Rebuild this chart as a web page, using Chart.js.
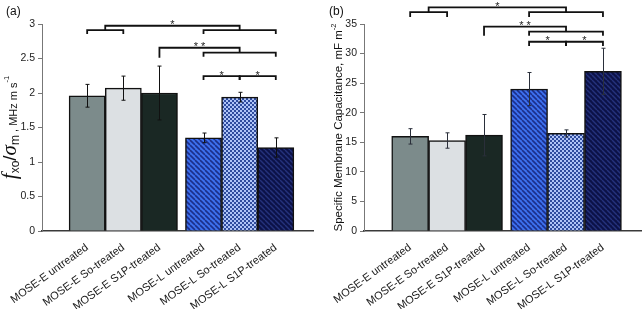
<!DOCTYPE html>
<html>
<head>
<meta charset="utf-8">
<script src="https://cdn.jsdelivr.net/npm/chart.js@4.4.1/dist/chart.umd.min.js"></script>
<style>
body{margin:0;background:#fff;font-family:'Liberation Sans',Arial,sans-serif}
.panel{position:absolute;top:0;width:322px;height:309px}
.tag{position:absolute;top:4px;font-size:12px;color:#111}
</style>
</head>
<body>
<div class="panel" style="left:0"><canvas id="chart-a" width="322" height="309"></canvas><div class="tag" style="left:6px">(a)</div></div>
<div class="panel" style="left:322px"><canvas id="chart-b" width="322" height="309"></canvas><div class="tag" style="left:7px">(b)</div></div>
<script>
// --- data ---
const categories = ['MOSE-E untreated','MOSE-E So-treated','MOSE-E S1P-treated','MOSE-L untreated','MOSE-L So-treated','MOSE-L S1P-treated'];
const fxoValues = [1.96, 2.07, 2.00, 1.35, 1.94, 1.21];
const fxoErrors = [0.165, 0.175, 0.39, 0.07, 0.07, 0.14];
const fxoTicks  = [0, 0.5, 1, 1.5, 2, 2.5, 3];
const capValues = [16.0, 15.3, 16.2, 24.0, 16.5, 27.0];
const capErrors = [1.3, 1.3, 3.5, 2.8, 0.6, 3.9];
const capTicks  = [0, 5, 10, 15, 20, 25, 30, 35];
// significance brackets: from/to bar index, bar height, left/right leg ends, label
const fxoBrackets = [
  {from:0,   to:1, y:2.91,  l:2.855, r:2.855},
  {from:3,   to:5, y:2.91,  l:2.855, r:2.855},
  {from:0.5, to:4, y:2.975, l:2.91,  r:2.91,  label:'*'},
  {from:3,   to:5, y:2.584, l:2.526, r:2.526},
  {from:2,   to:4, y:2.656, l:2.51,  r:2.584, label:'**'},
  {from:3,   to:4, y:2.246, l:2.19,  r:2.19,  label:'*'},
  {from:4,   to:5, y:2.246, l:2.19,  r:2.19,  label:'*'},
];
const capBrackets = [
  {from:0,   to:1, y:37.0,  l:36.2, r:36.2},
  {from:3,   to:5, y:37.0,  l:36.2, r:36.2},
  {from:0.5, to:4, y:37.8,  l:37.0, r:37.0, label:'*'},
  {from:3,   to:5, y:33.7,  l:33.0, r:33.0},
  {from:2,   to:4, y:34.55, l:33.0, r:33.7, label:'**'},
  {from:3,   to:4, y:32.0,  l:31.3, r:31.3, label:'*'},
  {from:4,   to:5, y:32.0,  l:31.3, r:31.3, label:'*'},
];

const GROUP_GAP = 0.22;   // small space between the E and L groups
const barPos = i => i + (i >= 3 ? GROUP_GAP : 0);
const fracPos = f => { const lo=Math.floor(f), hi=Math.ceil(f); return barPos(lo) + (barPos(hi)-barPos(lo))*(f-lo); };

function stripes(bg, fg, s, lw) {
  const c=document.createElement('canvas'); c.width=s; c.height=s;
  const g=c.getContext('2d');
  g.fillStyle=bg; g.fillRect(0,0,s,s);
  g.strokeStyle=fg; g.lineWidth=lw;
  for (let k=-1;k<=1;k++){ g.beginPath(); g.moveTo(k*s,0); g.lineTo(k*s+s,s); g.stroke(); }
  return g.createPattern(c,'repeat');
}
function checker(a, b, s) {
  const c=document.createElement('canvas'); c.width=s*2; c.height=s*2;
  const g=c.getContext('2d');
  g.fillStyle=a; g.fillRect(0,0,s*2,s*2);
  g.fillStyle=b; g.fillRect(0,0,s,s); g.fillRect(s,s,s,s);
  return g.createPattern(c,'repeat');
}
const barFills = [
  '#7C8B8B', '#DCE0E3', '#1A2824',
  stripes('#3D70EE', '#1C2F8A', 5, 1.6),
  checker('#AFC4F7', '#2F4C9E', 2),
  stripes('#0C1248', '#25327C', 5, 1.4),
];

const sigPlugin = {
  id: 'sigPlugin',
  afterDatasetsDraw(chart, args, o) {
    const {ctx, scales:{x, y}} = chart;
    ctx.save();
    ctx.strokeStyle = o.errColor; ctx.lineWidth = 1;
    o.values.forEach((v,i)=>{
      const px=Math.round(x.getPixelForValue(barPos(i)))+0.5;
      const t=y.getPixelForValue(v+o.errors[i]), b=y.getPixelForValue(v-o.errors[i]);
      ctx.beginPath();
      ctx.moveTo(px,t); ctx.lineTo(px,b);
      ctx.moveTo(px-2,t); ctx.lineTo(px+2,t);
      ctx.moveTo(px-2,b); ctx.lineTo(px+2,b);
      ctx.stroke();
    });
    ctx.restore();
  },
  afterDraw(chart, args, o) {
    const {ctx, chartArea, scales:{x, y}} = chart;
    ctx.save();
    ctx.strokeStyle='#111'; ctx.lineWidth=1.8; ctx.lineJoin='miter';
    ctx.fillStyle='#222'; ctx.font='11px "Liberation Sans"'; ctx.textAlign='center'; ctx.textBaseline='alphabetic';
    o.brackets.forEach(b=>{
      const x1=x.getPixelForValue(fracPos(b.from)), x2=x.getPixelForValue(fracPos(b.to));
      const yy=y.getPixelForValue(b.y);
      ctx.beginPath();
      ctx.moveTo(x1,y.getPixelForValue(b.l)); ctx.lineTo(x1,yy); ctx.lineTo(x2,yy); ctx.lineTo(x2,y.getPixelForValue(b.r));
      ctx.stroke();
      if (b.label) ctx.fillText(b.label.split('').join(' '),(x1+x2)/2,yy+2.5);
    });
    // rotated y-axis title built from pieces (sub/superscripts)
    ctx.fillStyle='#111'; ctx.textAlign='left';
    let total=0;
    o.title.forEach(p=>{ ctx.font=p.font; p.w=ctx.measureText(p.t).width; total+=p.w; });
    ctx.translate(o.titleX,(chartArea.top+chartArea.bottom)/2);
    ctx.rotate(-Math.PI/2);
    let cx=-total/2;
    o.title.forEach(p=>{ ctx.font=p.font; ctx.fillText(p.t,cx,p.dy||0); cx+=p.w; });
    ctx.restore();
  }
};

function buildChart(id, values, errors, ticks, yMax, brackets, title, titleX, errColor, padRight) {
  const canvas=document.getElementById(id);
  return new Chart(canvas, {
    type: 'bar',
    data: {
      datasets: [{
        data: values.map((v,i)=>({x:barPos(i), y:v})),
        backgroundColor: barFills,
        borderColor: '#111',
        borderWidth: 1.5,
        barPercentage: 1, categoryPercentage: 1,
      }],
    },
    options: {
      responsive: false, animation: false,
      layout: { padding: { left:0, right:padRight, top:24, bottom:0 } },
      plugins: {
        legend: { display:false }, tooltip: { enabled:false },
        sigPlugin: { values, errors, brackets, title, titleX, errColor },
      },
      scales: {
        x: {
          type: 'linear', min: -1.25, max: 6.25, offset: false,
          grid: { display:false },
          border: { display:true, color:'#3a3a3a', width:1.5 },
          afterBuildTicks: s => { s.ticks = categories.map((c,i)=>({value:barPos(i)})); },
          afterFit: s => { s.height = 78; },
          ticks: { autoSkip:false, minRotation:36, maxRotation:36, padding:2, color:'#1a1a1a',
                   font:{ family:'Liberation Sans', size:11 },
                   callback: (v,i) => categories[i] },
        },
        y: {
          min: 0, max: yMax,
          grid: { drawOnChartArea:false, drawTicks:true, tickLength:4, color:'#777' },
          border: { display:true, color:'#777', width:1 },
          afterBuildTicks: s => { s.ticks = ticks.map(v=>({value:v})); },
          afterFit: s => { s.width = 42; },
          ticks: { color:'#222', padding:3, font:{ family:'Liberation Sans', size:10.5 },
                   callback: v => String(v) },
        },
      },
    },
    plugins: [sigPlugin],
  });
}

buildChart('chart-a', fxoValues, fxoErrors, fxoTicks, 3, fxoBrackets, [
  {t:'f',  font:'italic 21px "Liberation Serif"'},
  {t:'xo', font:'12px "Liberation Sans"', dy:3},
  {t:'/',  font:'19px "Liberation Sans"'},
  {t:'σ',  font:'italic 21px "Liberation Serif"'},
  {t:'m',  font:'12px "Liberation Sans"', dy:3},
  {t:' , MHz m s', font:'11px "Liberation Sans"', dy:1},
  {t:'-1', font:'7.5px "Liberation Sans"', dy:-7},
], 16, '#111', 9);

buildChart('chart-b', capValues, capErrors, capTicks, 35, capBrackets, [
  {t:'Specific Membrane Capacitance, mF m', font:'11.5px "Liberation Sans"'},
  {t:'-2', font:'7.5px "Liberation Sans"', dy:-6},
], 20, '#2a2f3a', 3);
</script>
</body>
</html>
